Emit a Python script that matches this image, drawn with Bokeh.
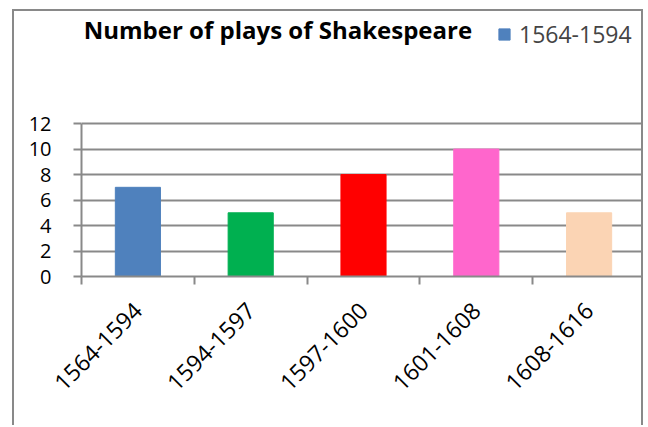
import math
from bokeh.plotting import figure
from bokeh.models import Range1d, FixedTicker, Legend, LegendItem, ColumnDataSource, Label
from bokeh.embed import file_html
from bokeh.resources import INLINE

periods = ["1564-1594", "1594-1597", "1597-1600", "1601-1608", "1608-1616"]
plays = [7, 5, 8, 10, 5]
colors = ["#4F81BD", "#00B050", "#FF0000", "#FF66CC", "#FBD4B4"]
y_ticks = [0, 2, 4, 6, 8, 10, 12]
title_text = "Number of plays of Shakespeare"

FONT = "Open Sans"
GRAY = "#898989"

centers = [i + 0.5 for i in range(len(periods))]
bounds = list(range(len(periods) + 1))
src = ColumnDataSource(dict(x=centers, top=plays, color=colors, label=periods))

p = figure(width=631, height=416, x_range=Range1d(0, len(periods)), y_range=Range1d(0, 20.8),
           output_backend="svg", toolbar_location=None, title=None,
           min_border_left=67, min_border_right=0, min_border_top=0, min_border_bottom=151)
p.margin = (9, 0, 0, 12)
p.styles = {"border-top": f"2px solid {GRAY}", "border-left": f"2px solid {GRAY}",
            "border-right": f"2px solid {GRAY}"}
p.outline_line_color = None
p.background_fill_color = "white"
p.border_fill_color = "white"

r = p.vbar(x="x", top="top", width=0.4, color="color", source=src)

p.xgrid.visible = False
p.ygrid.ticker = FixedTicker(ticks=y_ticks)
p.ygrid.grid_line_color = GRAY
p.ygrid.grid_line_width = 2

p.yaxis.ticker = FixedTicker(ticks=y_ticks)
p.yaxis.bounds = (y_ticks[0], y_ticks[-1])
p.yaxis.axis_line_color = GRAY
p.yaxis.axis_line_width = 2
p.yaxis.major_tick_line_color = GRAY
p.yaxis.major_tick_line_width = 2
p.yaxis.major_tick_out = 8
p.yaxis.major_tick_in = 0
p.yaxis.minor_tick_line_color = None
p.yaxis.major_label_text_font = FONT
p.yaxis.major_label_text_font_size = "20px"
p.yaxis.major_label_text_color = "black"
p.yaxis.major_label_standoff = 22

p.xaxis.ticker = FixedTicker(ticks=centers, minor_ticks=bounds)
p.xaxis.major_label_overrides = {c: lab for c, lab in zip(centers, periods)}
p.xaxis.axis_line_color = GRAY
p.xaxis.axis_line_width = 2
p.xaxis.major_tick_line_color = None
p.xaxis.major_tick_out = 0
p.xaxis.minor_tick_line_color = GRAY
p.xaxis.minor_tick_line_width = 2
p.xaxis.minor_tick_out = 8
p.xaxis.minor_tick_in = 0
p.xaxis.major_label_orientation = math.pi / 4
p.xaxis.major_label_text_font = FONT
p.xaxis.major_label_text_font_size = "23px"
p.xaxis.major_label_text_color = "black"
p.xaxis.major_label_standoff = 22

title = Label(x=0.02, y=19.35, text=title_text, text_font=FONT, text_font_style="bold",
              text_font_size="24px", text_color="black", text_baseline="alphabetic",
              text_align="left")
p.add_layout(title)

legend = Legend(items=[LegendItem(label=periods[0], renderers=[r], index=0)],
                location=(416, 226), orientation="horizontal",
                label_text_font=FONT, label_text_font_size="23px",
                glyph_width=14, glyph_height=14, label_standoff=8,
                border_line_color=None, background_fill_alpha=0,
                padding=0, margin=0)
p.add_layout(legend, "center")

open("out.html", "w").write(file_html(p, INLINE))
